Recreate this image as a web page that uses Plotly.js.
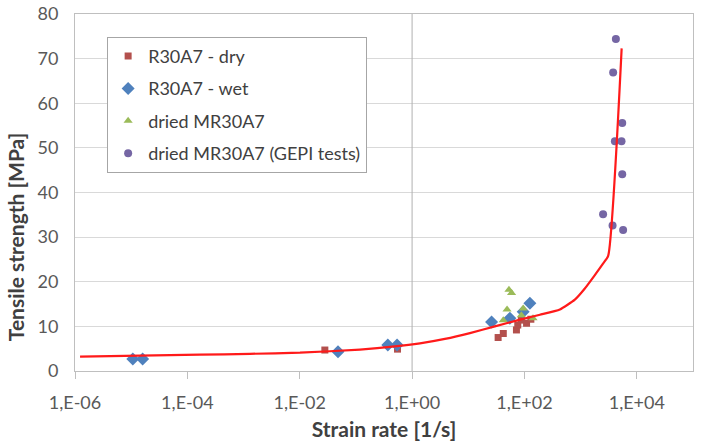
<!DOCTYPE html>
<html>
<head>
<meta charset="utf-8">
<script src="https://cdn.plot.ly/plotly-3.0.1.min.js"></script>
<style>html,body{margin:0;padding:0;background:#fff;}#chart{width:701px;height:444px;}</style>
</head>
<body>
<div id="chart"></div>
<script>
// Data
const dryX = [0.028, 0.55, 34, 42, 72, 76, 88, 109, 130];
const dryY = [4.7, 4.9, 7.5, 8.4, 9.2, 10.3, 11.4, 10.7, 11.6];

const wetX = [1.07e-5, 1.6e-5, 0.048, 0.37, 0.54, 26, 55, 95, 125];
const wetY = [2.7, 2.7, 4.3, 5.8, 5.8, 11.0, 11.8, 13.3, 15.2];

const driedX = [42, 49, 53, 59, 88, 95, 142];
const driedY = [11.4, 13.8, 18.2, 17.5, 12.5, 14.0, 11.8];

const gepiX = [4240, 3790, 5500, 4070, 5340, 5500, 2510, 3700, 5700];
const gepiY = [74.4, 66.9, 55.6, 51.5, 51.5, 44.1, 35.1, 32.6, 31.6];

const fitX = [1.23e-6, 1.67e-4, 1.3e-3, 0.0101, 0.118, 0.494, 1.38, 3.84, 10.7, 29.7, 83, 188, 427, 789, 1188, 1790, 2483, 3090, 5370];
const fitY = [3.2, 3.65, 3.85, 4.1, 4.8, 5.5, 6.2, 7.2, 8.5, 10.0, 11.5, 12.6, 13.8, 16.0, 18.5, 21.5, 24.0, 25.8, 72.3];

const xTickVals = [1e-6, 1e-4, 1e-2, 1, 1e2, 1e4];
const xTickText = ["1,E-06", "1,E-04", "1,E-02", "1,E+00", "1,E+02", "1,E+04"];
const yTickVals = [0, 10, 20, 30, 40, 50, 60, 70, 80];

const seriesNames = ["R30A7 - dry", "R30A7 - wet", "dried MR30A7", "dried MR30A7 (GEPI tests)"];
const crossX = [1, 1];
const crossY = [0, 80];

const FONT = "Lato, 'Open Sans', sans-serif";
const GREY = "#595959";

const traces = [
  {x: crossX, y: crossY, mode: "lines", line: {color: "#b0b0b0", width: 1}, showlegend: false, hoverinfo: "skip"},
  {x: dryX, y: dryY, mode: "markers", name: seriesNames[0], legendgroup: "a",
   marker: {symbol: "square", size: 7, color: "#B3504D"}},
  {x: wetX, y: wetY, mode: "markers", name: seriesNames[1], legendgroup: "b",
   marker: {symbol: "diamond", size: 10, color: "#4F81BD"}},
  {x: driedX, y: driedY, mode: "markers", name: seriesNames[2], legendgroup: "c",
   marker: {symbol: "triangle-up", size: 8, color: "#9BBB59"}},
  {x: gepiX, y: gepiY, mode: "markers", name: seriesNames[3], legendgroup: "d",
   marker: {symbol: "circle", size: 8, color: "#7566A4"}},
  {x: fitX, y: fitY, mode: "lines", line: {color: "#ff1a1a", width: 2.2, shape: "spline", smoothing: 0.5}, showlegend: false, hoverinfo: "skip"}
];

const layout = {
  width: 701, height: 444,
  margin: {l: 75, r: 8, t: 14, b: 73},
  paper_bgcolor: "#ffffff", plot_bgcolor: "#ffffff",
  font: {family: FONT, size: 17, color: GREY},
  showlegend: true,
  legend: {
    x: 0.052, y: 0.936, xanchor: "left", yanchor: "top",
    bgcolor: "#ffffff", bordercolor: "#a6a6a6", borderwidth: 1,
    font: {family: FONT, size: 18, color: "#404040"},
    traceorder: "grouped", tracegroupgap: 6, itemwidth: 30
  },
  xaxis: {
    type: "log", range: [-6, 5],
    tickvals: xTickVals, ticktext: xTickText,
    ticks: "outside", ticklen: 7, tickcolor: "#bfbfbf", tickwidth: 1,
    showgrid: false, zeroline: false,
    showline: true, linecolor: "#bfbfbf", linewidth: 1, mirror: true,
    tickfont: {family: FONT, size: 18, color: GREY},
    ticklabelstandoff: 8,
    title: {text: "<b>Strain rate [1/s]</b>", font: {family: FONT, size: 21, color: "#404040"}, standoff: 10}
  },
  yaxis: {
    range: [0, 80], tickvals: yTickVals,
    showgrid: true, gridcolor: "#d9d9d9", gridwidth: 1,
    zeroline: false, showline: true, linecolor: "#bfbfbf", linewidth: 1, mirror: true,
    ticks: "", tickfont: {family: FONT, size: 18, color: GREY},
    ticklabelstandoff: 12
  },
  annotations: [{
    text: "<b>Tensile strength [MPa]</b>", textangle: -90,
    xref: "paper", yref: "paper", x: -0.097, y: 0.375,
    xanchor: "center", yanchor: "middle", showarrow: false,
    font: {family: FONT, size: 21, color: "#404040"}
  }]
};

Plotly.newPlot("chart", traces, layout, {displayModeBar: false, staticPlot: true});
</script>
</body>
</html>
